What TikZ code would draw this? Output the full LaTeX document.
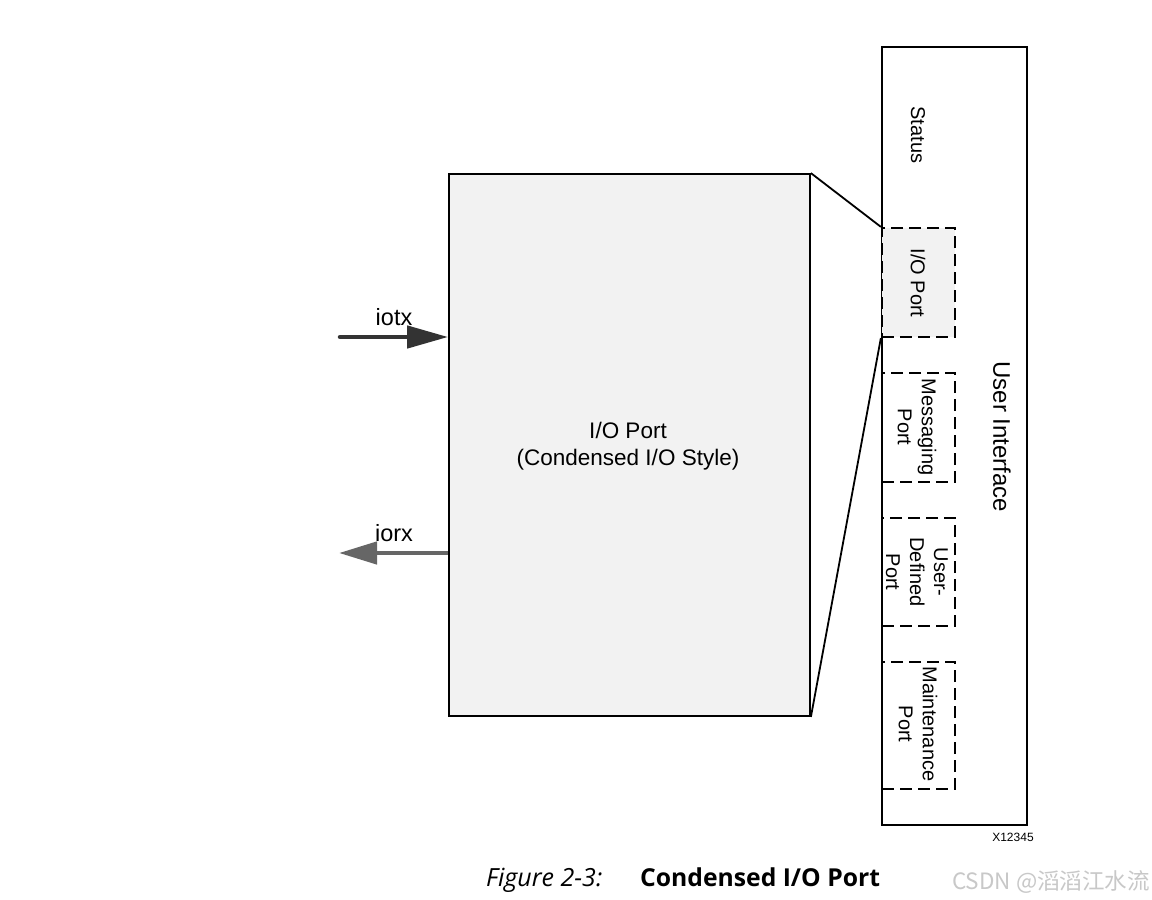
\documentclass[tikz,border=0pt]{standalone}
\usepackage{fontspec}
\setmainfont{Liberation Sans}
\newfontfamily\capfont{Open Sans}
\newfontfamily\cjk{Noto Sans CJK SC}
\usetikzlibrary{arrows.meta}
\definecolor{boxgray}{HTML}{F2F2F2}
\definecolor{txcol}{HTML}{333333}
\definecolor{rxcol}{HTML}{666666}
\definecolor{wmcol}{HTML}{C8C8C8}
\begin{document}
\begin{tikzpicture}[x=1pt,y=-1pt,
  solidbox/.style={draw=black,line width=1.8pt,inner sep=0pt},
  portbox/.style={draw=black,line width=2.3pt,dash pattern=on 12pt off 6pt,inner sep=0pt,minimum width=73pt},
  vlabel/.style={rotate=-90,align=center,font=\fontsize{20}{24}\selectfont,inner sep=0pt},
  biglabel/.style={font=\fontsize{22.5}{27}\selectfont,align=center,inner sep=0pt},
  txarrow/.style={draw=txcol,line width=4.5pt,line cap=round,-{Triangle[length=41pt,width=22pt]}},
  rxarrow/.style={draw=rxcol,line width=4.5pt,line cap=butt,-{Triangle[length=38pt,width=22pt]}}
]
\useasboundingbox (0,0) rectangle (1152,900);
\fill[white] (0,0) rectangle (1152,900);

% User interface outer box
\node[solidbox,minimum width=145pt,minimum height=778pt] (ui) at (954.5,436) {};
% main box
\node[solidbox,fill=boxgray,minimum width=361pt,minimum height=542pt] (main) at (629.5,445) {};

% port boxes
\node[portbox,fill=boxgray,minimum height=109pt] (ioport) at (918.5,282.5) {};
\node[portbox,minimum height=109pt] (msg) at (918.5,427.5) {};
\node[portbox,minimum height=108pt] (udp) at (918.5,572) {};
\node[portbox,minimum height=127pt] (mnt) at (918.5,725.5) {};

% connecting lines
\draw[line width=1.8pt] (main.north east) -- (ioport.north west);
\draw[line width=1.8pt] (main.south east) -- (ioport.south west);

% labels in UI
\node[vlabel] (status) at (918,135) {Status};
\node[vlabel] (iolbl) at (918,283) {I/O Port};
\node[vlabel] (msglbl) at (917,427) {Messaging\\Port};
\node[vlabel] (udplbl) at (917,572) {User-\\Defined\\Port};
\node[vlabel] (mntlbl) at (918,724) {Maintenance\\Port};
\node[vlabel,font=\fontsize{24}{28}\selectfont] (uilbl) at (1002,437) {User Interface};
\node[inner sep=0pt,font=\fontsize{12}{14}\selectfont] (xid) at (1013,837) {X12345};

% main label
\node[biglabel] (mainlbl) at (628,446) {I/O Port\\(Condensed I/O Style)};

% arrows
\coordinate (txs) at (340,337);
\coordinate (rxe) at (339,553);
\draw[txarrow] (txs) -- (main.west |- txs);
\draw[rxarrow] (main.west |- rxe) -- (rxe);
\node[biglabel,font=\fontsize{23.5}{27}\selectfont] (iotx) at (394,317) {iotx};
\node[biglabel,font=\fontsize{23.5}{27}\selectfont] (iorx) at (394,533) {iorx};

% caption
\node[anchor=base west,inner sep=0pt,font=\capfont\fontsize{25}{29}\selectfont\itshape] (capnum) at (486,886) {Figure 2-3:};
\node[anchor=base west,inner sep=0pt,font=\capfont\fontsize{24.7}{29}\selectfont\bfseries] (captxt) at (640,886) {Condensed I/O Port};

% watermark
\node[anchor=base west,inner sep=0pt,text=wmcol,font=\cjk\fontsize{22.5}{26}\selectfont] (wm) at (952,889) {CSDN @滔滔江水流};
\end{tikzpicture}
\end{document}
